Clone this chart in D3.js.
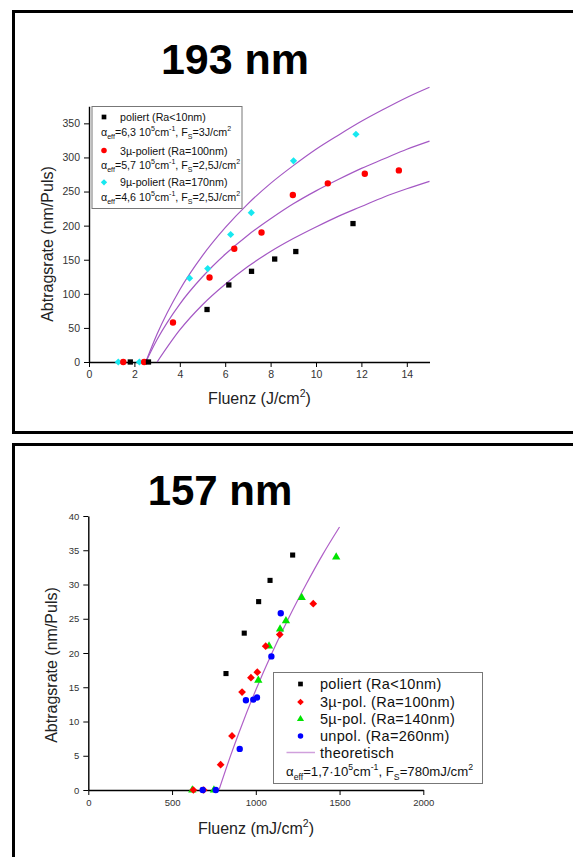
<!DOCTYPE html>
<html>
<head>
<meta charset="utf-8">
<script src="https://cdn.jsdelivr.net/npm/d3@7"></script>
<style>
  body { margin: 0; background: #fff; }
  svg { display: block; }
  text { font-family: "Liberation Sans", Arial, sans-serif; }
</style>
</head>
<body>
<div id="chart"></div>
<script>
// ---- 193 nm data (Fluenz J/cm2, Abtragsrate nm/Puls) ----
var pol193   = [[1.82,0],[2.62,0],[5.2,77],[6.16,113],[7.16,133],[8.18,151],[9.11,162],[11.63,203]];
var pol3u193 = [[1.51,0],[2.43,0],[3.7,58],[5.31,124],[6.4,166],[7.6,190],[8.98,245],[10.52,262],[12.15,276],[13.65,281]];
var pol9u193 = [[1.29,0],[2.22,0],[4.43,123],[5.23,137],[6.24,187],[7.15,219],[9.01,295],[11.76,334]];
// theoretical curves
var fitPol193 = [[3,0],[4,47],[5,84],[6,114],[7,140],[8,162],[9,181],[10,198],[11,214],[12,228],[13,242],[14,254],[15,265]];
var fit3u193  = [[2.5,0],[3,33],[4,85],[5,125],[6,158],[7,186],[8,210],[9,232],[10,251],[11,268],[12,284],[13,298],[14,312],[15,324]];
var fit9u193  = [[2.5,0],[3,41],[4,106],[5,156],[6,197],[7,232],[8,262],[9,288],[10,312],[11,333],[12,353],[13,371],[14,388],[15,403]];
var xTicks193 = [0,2,4,6,8,10,12,14];
var yTicks193 = [0,50,100,150,200,250,300,350];

// ---- 157 nm data (Fluenz mJ/cm2, Abtragsrate nm/Puls) ----
var pol157   = [[822,17.0],[931,22.9],[1017,27.5],[1085,30.6],[1220,34.3]];
var pol3u157 = [[627,0],[689,0],[790,3.7],[858,7.9],[918,14.3],[971,16.4],[1009,17.2],[1059,21.0],[1143,22.7],[1343,27.2]];
var pol5u157 = [[621,0],[750,0],[1015,16.0],[1079,21.0],[1145,23.5],[1180,24.7],[1274,28.1],[1480,34.0]];
var unpol157 = [[683,0],[761,0],[904,6.0],[941,13.1],[985,13.2],[1007,13.5],[1093,19.5],[1149,25.8]];
var theo157  = [[780,0],[850,5.05],[900,8.4],[1000,14.6],[1100,20.2],[1200,25.3],[1300,30.0],[1400,34.4],[1500,38.4]];
var xTicks157 = [0,500,1000,1500,2000];
var yTicks157 = [0,5,10,15,20,25,30,35,40];

var W = 573, H = 857;
var svg = d3.select("#chart").append("svg").attr("width", W).attr("height", H);

// panel frames (right side runs off the picture)
svg.append("rect").attr("x", 13.5).attr("y", 11.5).attr("width", 600).attr("height", 421)
  .attr("fill", "none").attr("stroke", "#000").attr("stroke-width", 3);
svg.append("rect").attr("x", 13.5).attr("y", 444.5).attr("width", 600).attr("height", 500)
  .attr("fill", "none").attr("stroke", "#000").attr("stroke-width", 3);

// rich text: segments {t, s:"sub"|"sup"}
function rich(g, x, y, segs, size) {
  var t = g.append("text").attr("x", x).attr("y", y).attr("font-size", size).attr("fill", "#111");
  var cur = 0;
  segs.forEach(function(s) {
    var target = s.s === "sup" ? -size * 0.42 : s.s === "sub" ? size * 0.32 : 0;
    var sp = t.append("tspan").text(s.t).attr("dy", target - cur);
    if (s.s) sp.attr("font-size", size * 0.66);
    cur = target;
  });
  return t;
}

function marker(g, shape, color, x, y, sz) {
  var sym = { sq: d3.symbolSquare, ci: d3.symbolCircle, di: d3.symbolSquare, tr: d3.symbolTriangle }[shape];
  g.append("path").attr("d", d3.symbol().type(sym).size(sz)())
    .attr("transform", "translate(" + x + "," + y + ")" + (shape === "di" ? " rotate(45)" : ""))
    .attr("fill", color);
}

function axes(g, x, y, xt, xminor, yt, yminor, fs) {
  var xa = g.append("g").attr("transform", "translate(0," + y.range()[0] + ")");
  xa.call(d3.axisBottom(x).tickValues(xminor).tickSize(2.5).tickFormat(""));
  xa.call(d3.axisBottom(x).tickValues(xt).tickSize(5).tickSizeOuter(0).tickPadding(4).tickFormat(d3.format("d")));
  var ya = g.append("g").attr("transform", "translate(" + x.range()[0] + ",0)");
  ya.call(d3.axisLeft(y).tickValues(yminor).tickSize(2.5).tickFormat(""));
  ya.call(d3.axisLeft(y).tickValues(yt).tickSize(5).tickSizeOuter(0).tickPadding(4).tickFormat(d3.format("d")));
  g.selectAll(".domain").attr("stroke", "#000").attr("stroke-width", 1.4);
  g.selectAll(".tick line").attr("stroke", "#000").attr("stroke-width", 1);
  g.selectAll(".tick text").attr("font-size", fs).attr("fill", "#333")
    .attr("font-family", "'Liberation Sans', Arial, sans-serif");
}

// ================= 193 nm =================
var g1 = svg.append("g");
var x1 = d3.scaleLinear().domain([0, 15]).range([89, 429.5]);
var y1 = d3.scaleLinear().domain([0, 375]).range([362, 106.3]);

g1.append("text").attr("x", 235).attr("y", 74).attr("text-anchor", "middle")
  .attr("font-size", 43).attr("font-weight", "bold").text("193 nm");

axes(g1, x1, y1, xTicks193, d3.range(0, 16, 1), yTicks193, d3.range(0, 376, 25), 10.5);

g1.append("text").attr("transform", "translate(53,244) rotate(-90)")
  .attr("text-anchor", "middle").attr("font-size", 16).attr("fill", "#222")
  .text("Abtragsrate (nm/Puls)");
rich(g1, 0, 404, [{t:"Fluenz (J/cm"},{t:"2",s:"sup"},{t:")"}], 16)
  .attr("fill", "#222").attr("x", 259.5).attr("text-anchor", "middle");

var line1 = d3.line().x(function(d){return x1(d[0]);}).y(function(d){return y1(d[1]);}).curve(d3.curveMonotoneX);
[fitPol193, fit3u193, fit9u193].forEach(function(c) {
  g1.append("path").attr("d", line1(c)).attr("fill", "none")
    .attr("stroke", "#a458c4").attr("stroke-width", 1.2);
});

pol9u193.forEach(function(d){ marker(g1, "di", "#17e8f0", x1(d[0]), y1(d[1]), 26); });
pol3u193.forEach(function(d){ marker(g1, "ci", "#ff0000", x1(d[0]), y1(d[1]), 32); });
pol193.forEach(function(d){ marker(g1, "sq", "#000", x1(d[0]), y1(d[1]), 28); });

// legend 193
var lg1 = g1.append("g");
lg1.append("rect").attr("x", 92).attr("y", 106.5).attr("width", 150).attr("height", 102)
  .attr("fill", "#fff").attr("stroke", "#777").attr("stroke-width", 1);
var fs1 = 10.7;
marker(lg1, "sq", "#000", 104, 117, 22);
lg1.append("text").attr("x", 120).attr("y", 120.5).attr("font-size", fs1).attr("fill", "#111").text("poliert (Ra<10nm)");
rich(lg1, 101, 135.5, [{t:"\u03b1"},{t:"eff",s:"sub"},{t:"=6,3 10"},{t:"5",s:"sup"},{t:"cm"},{t:"-1",s:"sup"},{t:", F"},{t:"S",s:"sub"},{t:"=3J/cm"},{t:"2",s:"sup"}], fs1);
marker(lg1, "ci", "#ff0000", 104, 150.5, 24);
lg1.append("text").attr("x", 120).attr("y", 154.5).attr("font-size", fs1).attr("fill", "#111").text("3\u00b5-poliert (Ra=100nm)");
rich(lg1, 101, 168.5, [{t:"\u03b1"},{t:"eff",s:"sub"},{t:"=5,7 10"},{t:"5",s:"sup"},{t:"cm"},{t:"-1",s:"sup"},{t:", F"},{t:"S",s:"sub"},{t:"=2,5J/cm"},{t:"2",s:"sup"}], fs1);
marker(lg1, "di", "#17e8f0", 104, 182.3, 20);
lg1.append("text").attr("x", 120).attr("y", 186).attr("font-size", fs1).attr("fill", "#111").text("9\u00b5-poliert (Ra=170nm)");
rich(lg1, 101, 200.5, [{t:"\u03b1"},{t:"eff",s:"sub"},{t:"=4,6 10"},{t:"5",s:"sup"},{t:"cm"},{t:"-1",s:"sup"},{t:", F"},{t:"S",s:"sub"},{t:"=2,5J/cm"},{t:"2",s:"sup"}], fs1);

// ================= 157 nm =================
var g2 = svg.append("g");
var x2 = d3.scaleLinear().domain([0, 2000]).range([88.3, 423.3]);
var y2 = d3.scaleLinear().domain([0, 40]).range([790, 516]);

g2.append("text").attr("x", 220).attr("y", 505).attr("text-anchor", "middle")
  .attr("font-size", 42).attr("font-weight", "bold").text("157 nm");

axes(g2, x2, y2, xTicks157, d3.range(0, 2001, 100), yTicks157, d3.range(0, 40.1, 2.5), 9.5);

g2.append("text").attr("transform", "translate(56.5,665) rotate(-90)")
  .attr("text-anchor", "middle").attr("font-size", 16).attr("fill", "#222")
  .text("Abtragsrate (nm/Puls)");
rich(g2, 0, 834, [{t:"Fluenz (mJ/cm"},{t:"2",s:"sup"},{t:")"}], 16)
  .attr("fill", "#222").attr("x", 256).attr("text-anchor", "middle");

var line2 = d3.line().x(function(d){return x2(d[0]);}).y(function(d){return y2(d[1]);}).curve(d3.curveMonotoneX);
g2.append("path").attr("d", line2(theo157)).attr("fill", "none")
  .attr("stroke", "#b060c8").attr("stroke-width", 1.2);

pol157.forEach(function(d){ marker(g2, "sq", "#000", x2(d[0]), y2(d[1]), 26); });
pol5u157.forEach(function(d){ marker(g2, "tr", "#00e400", x2(d[0]), y2(d[1]), 30); });
pol3u157.forEach(function(d){ marker(g2, "di", "#ff0000", x2(d[0]), y2(d[1]), 30); });
unpol157.forEach(function(d){ marker(g2, "ci", "#0000ff", x2(d[0]), y2(d[1]), 32); });

// legend 157
var lg2 = g2.append("g");
lg2.append("rect").attr("x", 273.5).attr("y", 672.5).attr("width", 209).attr("height", 111)
  .attr("fill", "#fff").attr("stroke", "#777").attr("stroke-width", 1);
var leg2 = [["sq","#000","poliert (Ra<10nm)"],["di","#ff0000","3\u00b5-pol. (Ra=100nm)"],
            ["tr","#00e400","5\u00b5-pol. (Ra=140nm)"],["ci","#0000ff","unpol. (Ra=260nm)"]];
var legY = [684, 702, 719, 736];
var fs2 = 14.5;
leg2.forEach(function(l, i) {
  marker(lg2, l[0], l[1], 300.5, legY[i], l[0] === "ci" ? 24 : 22);
  lg2.append("text").attr("x", 320).attr("y", legY[i] + 5).attr("font-size", fs2)
    .attr("letter-spacing", 0.3).attr("fill", "#111").text(l[2]);
});
lg2.append("line").attr("x1", 286.5).attr("x2", 315).attr("y1", 752.5).attr("y2", 752.5)
  .attr("stroke", "#d0a0dc").attr("stroke-width", 1.5);
lg2.append("text").attr("x", 320).attr("y", 757.7).attr("font-size", fs2)
  .attr("letter-spacing", 0.3).attr("fill", "#111").text("theoretisch");
rich(lg2, 286, 775.5, [{t:"\u03b1"},{t:"eff",s:"sub"},{t:"=1,7\u00b710"},{t:"5",s:"sup"},{t:"cm"},{t:"-1",s:"sup"},{t:", F"},{t:"S",s:"sub"},{t:"=780mJ/cm"},{t:"2",s:"sup"}], 13.2);
</script>
</body>
</html>
